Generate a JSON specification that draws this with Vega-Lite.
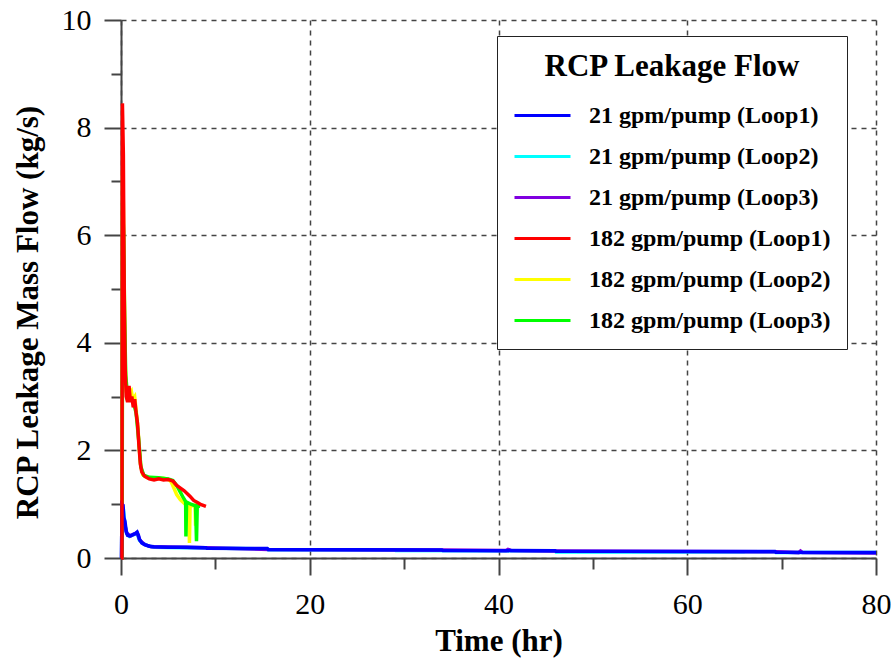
{
  "$schema": "https://vega.github.io/schema/vega-lite/v6.json",
  "width": 755,
  "height": 538,
  "autosize": {"type": "none"},
  "padding": {"left": 121, "top": 20, "right": 18, "bottom": 105},
  "background": "white",
  "config": {"view": {"stroke": null}, "font": "Liberation Serif"},
  "datasets": {
    "names": [
      {"code": "B", "name": "21 gpm/pump (Loop1)"},
      {"code": "C", "name": "21 gpm/pump (Loop2)"},
      {"code": "P", "name": "21 gpm/pump (Loop3)"},
      {"code": "R", "name": "182 gpm/pump (Loop1)"},
      {"code": "Y", "name": "182 gpm/pump (Loop2)"},
      {"code": "G", "name": "182 gpm/pump (Loop3)"}
    ],
    "flow": [
      {"code": "B", "t": 0, "v": 0}, {"code": "B", "t": 0.06, "v": 0}, {"code": "B", "t": 0.1, "v": 1.0}, {"code": "B", "t": 0.22, "v": 0.98},
      {"code": "B", "t": 0.3, "v": 0.75}, {"code": "B", "t": 0.42, "v": 0.68}, {"code": "B", "t": 0.55, "v": 0.5}, {"code": "B", "t": 0.7, "v": 0.42},
      {"code": "B", "t": 0.9, "v": 0.41}, {"code": "B", "t": 1.1, "v": 0.42}, {"code": "B", "t": 1.3, "v": 0.44}, {"code": "B", "t": 1.5, "v": 0.45},
      {"code": "B", "t": 1.7, "v": 0.48}, {"code": "B", "t": 1.85, "v": 0.42}, {"code": "B", "t": 1.95, "v": 0.35}, {"code": "B", "t": 2.2, "v": 0.28},
      {"code": "B", "t": 2.5, "v": 0.25}, {"code": "B", "t": 3.0, "v": 0.22}, {"code": "B", "t": 3.5, "v": 0.21}, {"code": "B", "t": 5, "v": 0.2},
      {"code": "B", "t": 7, "v": 0.2}, {"code": "B", "t": 9, "v": 0.19}, {"code": "B", "t": 9.1, "v": 0.18}, {"code": "B", "t": 15.5, "v": 0.175},
      {"code": "B", "t": 15.6, "v": 0.16}, {"code": "B", "t": 25, "v": 0.155}, {"code": "B", "t": 34, "v": 0.15}, {"code": "B", "t": 34.1, "v": 0.14},
      {"code": "B", "t": 46, "v": 0.135}, {"code": "B", "t": 46.1, "v": 0.125}, {"code": "B", "t": 69.3, "v": 0.12}, {"code": "B", "t": 69.4, "v": 0.105},
      {"code": "B", "t": 80, "v": 0.1},

      {"code": "C", "t": 0, "v": 0}, {"code": "C", "t": 0.06, "v": 0}, {"code": "C", "t": 0.1, "v": 0.95}, {"code": "C", "t": 0.25, "v": 0.9},
      {"code": "C", "t": 0.4, "v": 0.65}, {"code": "C", "t": 0.6, "v": 0.45}, {"code": "C", "t": 0.9, "v": 0.4}, {"code": "C", "t": 1.3, "v": 0.43},
      {"code": "C", "t": 1.7, "v": 0.46}, {"code": "C", "t": 1.95, "v": 0.33}, {"code": "C", "t": 2.35, "v": 0.27}, {"code": "C", "t": 2.8, "v": 0.23},
      {"code": "C", "t": 3.5, "v": 0.2}, {"code": "C", "t": 9, "v": 0.185}, {"code": "C", "t": 15.5, "v": 0.17}, {"code": "C", "t": 15.6, "v": 0.155},
      {"code": "C", "t": 29, "v": 0.15}, {"code": "C", "t": 29.1, "v": 0.14}, {"code": "C", "t": 46, "v": 0.13}, {"code": "C", "t": 46.1, "v": 0.11},
      {"code": "C", "t": 66, "v": 0.11}, {"code": "C", "t": 66.1, "v": 0.115}, {"code": "C", "t": 69.3, "v": 0.115}, {"code": "C", "t": 69.4, "v": 0.1},
      {"code": "C", "t": 80, "v": 0.1},

      {"code": "P", "t": 0, "v": 0}, {"code": "P", "t": 0.06, "v": 0}, {"code": "P", "t": 0.1, "v": 0.97}, {"code": "P", "t": 0.3, "v": 0.7},
      {"code": "P", "t": 0.6, "v": 0.46}, {"code": "P", "t": 1.0, "v": 0.41}, {"code": "P", "t": 1.7, "v": 0.47}, {"code": "P", "t": 2.0, "v": 0.33},
      {"code": "P", "t": 2.5, "v": 0.25}, {"code": "P", "t": 3.2, "v": 0.21}, {"code": "P", "t": 9, "v": 0.19}, {"code": "P", "t": 15.6, "v": 0.16},
      {"code": "P", "t": 34, "v": 0.15}, {"code": "P", "t": 40.8, "v": 0.14}, {"code": "P", "t": 41.0, "v": 0.16}, {"code": "P", "t": 41.3, "v": 0.14},
      {"code": "P", "t": 46, "v": 0.13}, {"code": "P", "t": 69.4, "v": 0.115}, {"code": "P", "t": 71.8, "v": 0.1}, {"code": "P", "t": 72, "v": 0.13},
      {"code": "P", "t": 72.2, "v": 0.1}, {"code": "P", "t": 80, "v": 0.095},

      {"code": "R", "t": 0, "v": 0}, {"code": "R", "t": 0.1, "v": 0}, {"code": "R", "t": 0.15, "v": 8.45}, {"code": "R", "t": 0.25, "v": 7.5},
      {"code": "R", "t": 0.3, "v": 6.0}, {"code": "R", "t": 0.35, "v": 4.8}, {"code": "R", "t": 0.45, "v": 3.5}, {"code": "R", "t": 0.55, "v": 3.0},
      {"code": "R", "t": 0.7, "v": 2.9}, {"code": "R", "t": 0.85, "v": 3.2}, {"code": "R", "t": 1.0, "v": 2.9}, {"code": "R", "t": 1.15, "v": 3.0},
      {"code": "R", "t": 1.3, "v": 2.8}, {"code": "R", "t": 1.45, "v": 2.95}, {"code": "R", "t": 1.6, "v": 2.7}, {"code": "R", "t": 1.75, "v": 2.5},
      {"code": "R", "t": 1.9, "v": 2.1}, {"code": "R", "t": 2.05, "v": 1.75}, {"code": "R", "t": 2.2, "v": 1.6}, {"code": "R", "t": 2.5, "v": 1.52},
      {"code": "R", "t": 3.0, "v": 1.47}, {"code": "R", "t": 3.5, "v": 1.45}, {"code": "R", "t": 4.0, "v": 1.47}, {"code": "R", "t": 4.5, "v": 1.45},
      {"code": "R", "t": 5.0, "v": 1.46}, {"code": "R", "t": 5.5, "v": 1.43}, {"code": "R", "t": 5.9, "v": 1.35}, {"code": "R", "t": 6.3, "v": 1.3},
      {"code": "R", "t": 6.7, "v": 1.25}, {"code": "R", "t": 7.0, "v": 1.2}, {"code": "R", "t": 7.3, "v": 1.15}, {"code": "R", "t": 7.7, "v": 1.07},
      {"code": "R", "t": 8.1, "v": 1.03}, {"code": "R", "t": 8.5, "v": 0.99}, {"code": "R", "t": 9.0, "v": 0.96},

      {"code": "Y", "t": 0, "v": 0}, {"code": "Y", "t": 0.12, "v": 0}, {"code": "Y", "t": 0.17, "v": 7.2}, {"code": "Y", "t": 0.25, "v": 6.6},
      {"code": "Y", "t": 0.35, "v": 5.0}, {"code": "Y", "t": 0.45, "v": 3.6}, {"code": "Y", "t": 0.55, "v": 3.1}, {"code": "Y", "t": 0.7, "v": 3.0},
      {"code": "Y", "t": 0.9, "v": 3.05}, {"code": "Y", "t": 1.1, "v": 3.1}, {"code": "Y", "t": 1.25, "v": 2.95}, {"code": "Y", "t": 1.45, "v": 3.0},
      {"code": "Y", "t": 1.6, "v": 2.75}, {"code": "Y", "t": 1.8, "v": 2.4}, {"code": "Y", "t": 1.95, "v": 2.0}, {"code": "Y", "t": 2.1, "v": 1.7},
      {"code": "Y", "t": 2.3, "v": 1.55}, {"code": "Y", "t": 2.7, "v": 1.5}, {"code": "Y", "t": 3.5, "v": 1.47}, {"code": "Y", "t": 4.5, "v": 1.48},
      {"code": "Y", "t": 5.0, "v": 1.46}, {"code": "Y", "t": 5.3, "v": 1.42}, {"code": "Y", "t": 5.6, "v": 1.3}, {"code": "Y", "t": 5.9, "v": 1.18},
      {"code": "Y", "t": 6.3, "v": 1.08}, {"code": "Y", "t": 6.8, "v": 1.0}, {"code": "Y", "t": 7.2, "v": 0.98}, {"code": "Y", "t": 7.25, "v": 0.28},
      {"code": "Y", "t": 7.32, "v": 0.97}, {"code": "Y", "t": 7.85, "v": 0.97}, {"code": "Y", "t": 7.9, "v": 0.6}, {"code": "Y", "t": 7.97, "v": 0.98},
      {"code": "Y", "t": 8.2, "v": 0.97},

      {"code": "G", "t": 0, "v": 0}, {"code": "G", "t": 0.12, "v": 0}, {"code": "G", "t": 0.17, "v": 6.6}, {"code": "G", "t": 0.28, "v": 6.0},
      {"code": "G", "t": 0.38, "v": 4.5}, {"code": "G", "t": 0.5, "v": 3.4}, {"code": "G", "t": 0.7, "v": 3.0}, {"code": "G", "t": 1.0, "v": 2.95},
      {"code": "G", "t": 1.3, "v": 2.9}, {"code": "G", "t": 1.6, "v": 2.7}, {"code": "G", "t": 1.9, "v": 2.15}, {"code": "G", "t": 2.1, "v": 1.7},
      {"code": "G", "t": 2.4, "v": 1.54}, {"code": "G", "t": 3.0, "v": 1.5}, {"code": "G", "t": 4.0, "v": 1.49}, {"code": "G", "t": 5.0, "v": 1.47},
      {"code": "G", "t": 5.5, "v": 1.44}, {"code": "G", "t": 5.9, "v": 1.35}, {"code": "G", "t": 6.3, "v": 1.22}, {"code": "G", "t": 6.6, "v": 1.12},
      {"code": "G", "t": 6.85, "v": 1.05}, {"code": "G", "t": 6.88, "v": 0.4}, {"code": "G", "t": 6.95, "v": 1.04}, {"code": "G", "t": 7.4, "v": 1.0},
      {"code": "G", "t": 7.9, "v": 0.97}, {"code": "G", "t": 8.0, "v": 0.31}, {"code": "G", "t": 8.08, "v": 0.97}, {"code": "G", "t": 8.4, "v": 0.96}
    ]
  },
  "data": {"name": "flow"},
  "transform": [
    {"lookup": "code", "from": {"data": {"name": "names"}, "key": "code", "fields": ["name"]}}
  ],
  "encoding": {
    "color": {
      "field": "name", "type": "nominal",
      "scale": {
        "domain": ["21 gpm/pump (Loop1)", "21 gpm/pump (Loop2)", "21 gpm/pump (Loop3)", "182 gpm/pump (Loop1)", "182 gpm/pump (Loop2)", "182 gpm/pump (Loop3)"],
        "range": ["#0000ff", "#00ffff", "#8000e0", "#ff0000", "#ffff00", "#00ff00"]
      },
      "legend": {
        "title": "RCP Leakage Flow",
        "orient": "none", "legendX": 376, "legendY": 16,
        "fillColor": "white", "strokeColor": "#222",
        "padding": 16,
        "titleFont": "Liberation Serif", "titleFontSize": 31, "titleFontWeight": "bold", "titleColor": "black",
        "titleAnchor": "middle", "titlePadding": 17, "titleLimit": 0,
        "labelFont": "Liberation Serif", "labelFontSize": 24, "labelFontWeight": "bold", "labelColor": "black", "labelLimit": 0,
        "symbolType": "M-1,0H3", "symbolSize": 784, "symbolStrokeWidth": 3, "labelOffset": 45,
        "rowPadding": 13
      }
    }
  },
  "layer": [
    {
      "transform": [{"filter": {"field": "code", "oneOf": ["C", "P", "Y", "G"]}}],
      "mark": {"type": "line", "strokeWidth": 3.5, "interpolate": "linear"},
      "encoding": {
        "x": {
          "field": "t", "type": "quantitative",
          "scale": {"domain": [0, 80], "nice": false},
          "axis": {
            "orient": "bottom",
            "title": "Time (hr)",
            "values": [0, 20, 40, 60, 80],
            "labelOverlap": false, "labelFlush": false,
            "labelFont": "Liberation Serif", "labelFontSize": 30, "labelColor": "black", "labelPadding": 14,
            "titleFont": "Liberation Serif", "titleFontSize": 31, "titleFontWeight": "bold", "titleColor": "black",
            "titleY": 83, "titleBaseline": "middle",
            "domainColor": "#444", "domainWidth": 2,
            "ticks": true, "tickColor": "#444", "tickWidth": 2, "tickSize": 17,
            "grid": true, "gridColor": "#444", "gridDash": [5, 5], "gridWidth": 1.5
          }
        },
        "y": {
          "field": "v", "type": "quantitative",
          "scale": {"domain": [0, 10], "nice": false},
          "axis": {
            "orient": "left",
            "title": "RCP Leakage Mass Flow (kg/s)",
            "values": [0, 2, 4, 6, 8, 10],
            "labelOverlap": false, "labelFlush": false,
            "labelFont": "Liberation Serif", "labelFontSize": 30, "labelColor": "black", "labelPadding": 13,
            "titleFont": "Liberation Serif", "titleFontSize": 31, "titleFontWeight": "bold", "titleColor": "black",
            "titleX": -93, "titleY": 292, "titleBaseline": "middle", "titleAlign": "center", "titleAngle": -90,
            "domainColor": "#444", "domainWidth": 2,
            "ticks": true, "tickColor": "#444", "tickWidth": 2, "tickSize": 17,
            "grid": true, "gridColor": "#444", "gridDash": [5, 5], "gridWidth": 1.5
          }
        }
      }
    },
    {
      "transform": [{"filter": {"field": "code", "oneOf": ["B", "R"]}}],
      "mark": {"type": "line", "strokeWidth": 3.5, "interpolate": "linear"},
      "encoding": {
        "x": {
          "field": "t", "type": "quantitative",
          "axis": {
            "orient": "bottom", "title": null,
            "values": [10, 30, 50, 70],
            "labels": false, "domain": false, "grid": false,
            "ticks": true, "tickColor": "#444", "tickWidth": 2, "tickSize": 11
          }
        },
        "y": {
          "field": "v", "type": "quantitative",
          "axis": {
            "orient": "left", "title": null,
            "values": [1, 3, 5, 7, 9],
            "labels": false, "domain": false, "grid": false,
            "ticks": true, "tickColor": "#444", "tickWidth": 2, "tickSize": 10
          }
        }
      }
    }
  ],
  "resolve": {"axis": {"x": "independent", "y": "independent"}}
}
